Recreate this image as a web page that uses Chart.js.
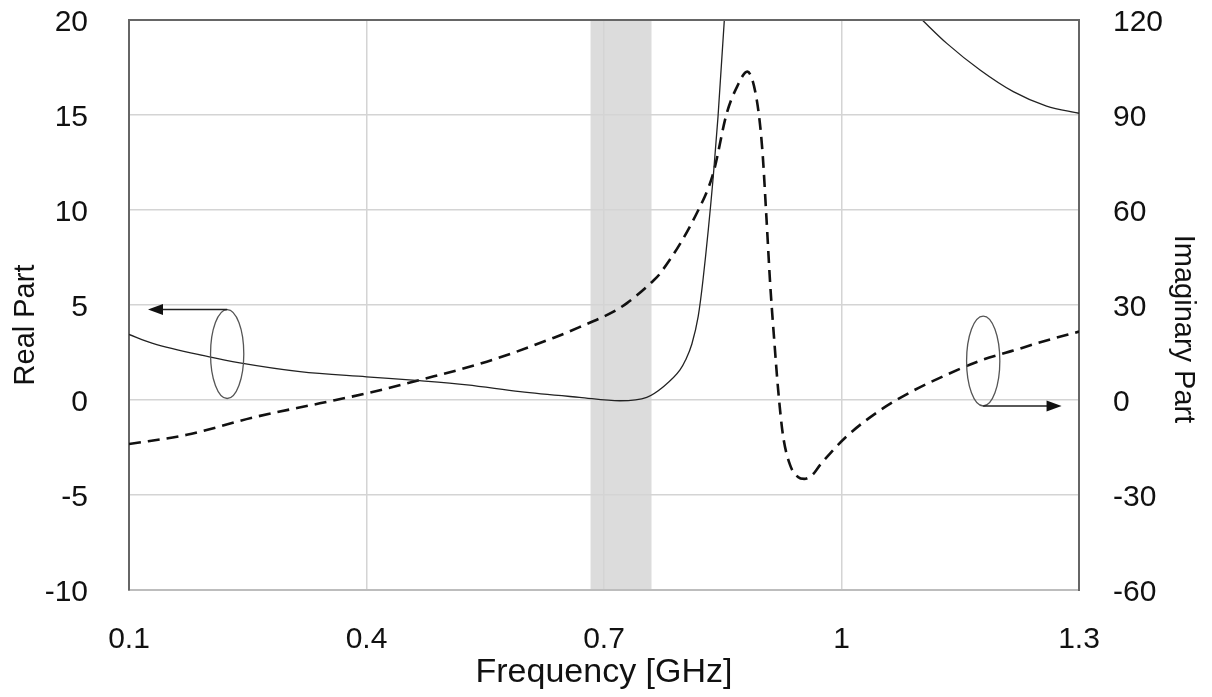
<!DOCTYPE html>
<html>
<head>
<meta charset="utf-8">
<script src="https://cdn.jsdelivr.net/npm/chart.js@4/dist/chart.umd.min.js"></script>
<style>
html, body { margin: 0; padding: 0; background: #fff; }
#wrap { width: 1212px; height: 697px; }
</style>
</head>
<body>
<div id="wrap"><canvas id="chart" width="1212" height="697"></canvas></div>
<script>
'use strict';

// real part (left axis), null = off the top of the chart
var freq_real = [0.10, 0.13, 0.20, 0.24, 0.316, 0.40, 0.467, 0.527, 0.594, 0.669, 0.72, 0.754, 0.775, 0.796, 0.803, 0.811, 0.819, 0.825, 0.838, 0.844, 0.852, 0.857,
                 0.98, 1.08, 1.103, 1.133, 1.175, 1.217, 1.259, 1.30];
var real_part = [3.45, 2.98, 2.28, 1.95, 1.49, 1.22, 1.02, 0.80, 0.44, 0.14, -0.04, 0.14, 0.7, 1.58, 2.1, 2.95, 4.4, 6.3, 11.75, 14.9, 20.0, 23.5,
                 null, 20.9, 19.96, 18.77, 17.37, 16.23, 15.47, 15.09];

// imaginary part (right axis)
var freq_imag = [0.10, 0.173, 0.257, 0.341, 0.40, 0.467, 0.552, 0.636, 0.669, 0.712, 0.729, 0.762, 0.771, 0.817, 0.838, 0.855, 0.868, 0.881,
                 0.893, 0.900, 0.905, 0.910, 0.915, 0.920, 0.926, 0.935, 0.945, 0.953, 0.963, 0.973, 1.006, 1.049, 1.091, 1.133, 1.175, 1.217, 1.259, 1.30];
var imag_part = [-13.9, -11.0, -5.5, -1.05, 2.1, 6.3, 12.1, 19.6, 23.0, 27.9, 30.6, 37.6, 40.0, 58.9, 71.6, 90.5, 98.9, 103.7,
                 94.7, 79.0, 58.4, 36.3, 19.0, 3.2, -11.0, -20.5, -24.3, -24.9, -23.7, -20.5, -11.6, -3.2, 3.0, 8.0, 12.4, 15.6, 18.8, 21.6];

var x_ticks = [0.1, 0.4, 0.7, 1, 1.3];
var y_ticks = [-10, -5, 0, 5, 10, 15, 20];
var y1_ticks = [-60, -30, 0, 30, 60, 90, 120];

// shaded frequency band [GHz]
var band = [0.683, 0.76];

// axis markers: ellipse around a curve + arrow to its axis
var marker_real = {x: 0.224, y: 2.42, rx: 0.021, ry: 2.34, side: 'top', to: 0.124};
var marker_imag = {x: 1.179, y: 12.3, rx: 0.021, ry: 14.2, side: 'bottom', to: 1.278};

var font_family = 'Liberation Sans, Arial, sans-serif';
var tick_font = {family: font_family, size: 30};

// side titles (drawn by hand, the originals sit below the axis centre)
var side_titles = [
    {text: 'Real Part', x: 26, y: 325, rot: -Math.PI / 2},
    {text: 'Imaginary Part', x: 1183, y: 329, rot: Math.PI / 2}
];

function to_points(xs, ys) {
    return xs.map((x, i) => ({x: x, y: ys[i]}));
}

function set_ticks(list) {
    return scale => { scale.ticks = list.map(v => ({value: v})); };
}

var edge_transparent = list => ctx => {
    var v = ctx.tick && ctx.tick.value;
    return (v === list[0] || v === list[list.length - 1]) ? 'rgba(0,0,0,0)' : '#d4d4d4';
};

var band_plugin = {
    id: 'band',
    beforeDraw: chart => {
        var ctx = chart.ctx, area = chart.chartArea, xs = chart.scales.x;
        var x0 = xs.getPixelForValue(band[0]), x1 = xs.getPixelForValue(band[1]);
        ctx.save();
        ctx.fillStyle = '#dcdcdc';
        ctx.fillRect(x0, area.top, x1 - x0, area.bottom - area.top);
        ctx.restore();
    }
};

function draw_marker(ctx, xs, ys, m) {
    var cx = xs.getPixelForValue(m.x), cy = ys.getPixelForValue(m.y);
    var rx = Math.abs(xs.getPixelForValue(m.x + m.rx) - cx);
    var ry = Math.abs(ys.getPixelForValue(m.y + m.ry) - cy);
    ctx.strokeStyle = '#555';
    ctx.lineWidth = 1.3;
    ctx.beginPath();
    ctx.ellipse(cx, cy, rx, ry, 0, 0, 2 * Math.PI);
    ctx.stroke();

    var ay = m.side === 'top' ? cy - ry : cy + ry;
    var ax = xs.getPixelForValue(m.to);
    var dir = ax < cx ? -1 : 1;
    ctx.strokeStyle = '#222';
    ctx.lineWidth = 1.6;
    ctx.beginPath();
    ctx.moveTo(cx, ay);
    ctx.lineTo(ax - dir * 12, ay);
    ctx.stroke();
    ctx.fillStyle = '#111';
    ctx.beginPath();
    ctx.moveTo(ax, ay);
    ctx.lineTo(ax - dir * 15, ay - 5.5);
    ctx.lineTo(ax - dir * 15, ay + 5.5);
    ctx.closePath();
    ctx.fill();
}

var marker_plugin = {
    id: 'markers',
    afterDatasetsDraw: chart => {
        var ctx = chart.ctx, s = chart.scales;
        ctx.save();
        draw_marker(ctx, s.x, s.y, marker_real);
        draw_marker(ctx, s.x, s.y1, marker_imag);
        ctx.restore();
    },
    afterDraw: chart => {
        var ctx = chart.ctx, area = chart.chartArea;
        ctx.save();
        // top edge of the frame
        ctx.strokeStyle = '#666';
        ctx.lineWidth = 2;
        ctx.beginPath();
        ctx.moveTo(area.left - 1, area.top);
        ctx.lineTo(area.right + 1, area.top);
        ctx.stroke();
        // side titles
        ctx.fillStyle = '#111';
        ctx.font = '29px ' + font_family;
        ctx.textAlign = 'center';
        ctx.textBaseline = 'middle';
        side_titles.forEach(t => {
            ctx.save();
            ctx.translate(t.x, t.y);
            ctx.rotate(t.rot);
            ctx.fillText(t.text, 0, 0);
            ctx.restore();
        });
        ctx.restore();
    }
};

new Chart(document.getElementById('chart'), {
    type: 'line',
    data: {
        datasets: [
            {
                label: 'Real Part',
                data: to_points(freq_real, real_part),
                yAxisID: 'y',
                borderColor: '#222',
                borderWidth: 1.3,
                pointRadius: 0,
                cubicInterpolationMode: 'monotone',
                spanGaps: false
            },
            {
                label: 'Imaginary Part',
                data: to_points(freq_imag, imag_part),
                yAxisID: 'y1',
                borderColor: '#111',
                borderWidth: 2.6,
                borderDash: [12, 7],
                pointRadius: 0,
                cubicInterpolationMode: 'monotone'
            }
        ]
    },
    options: {
        responsive: false,
        animation: false,
        events: [],
        layout: {padding: {top: 20, left: 0, right: 0, bottom: 0}},
        plugins: {legend: {display: false}, tooltip: {enabled: false}},
        scales: {
            x: {
                type: 'linear',
                min: 0.1,
                max: 1.3,
                afterBuildTicks: set_ticks(x_ticks),
                afterFit: scale => { scale.height = 107; },
                ticks: {font: tick_font, color: '#111', padding: 32, callback: v => String(v)},
                grid: {color: edge_transparent(x_ticks), lineWidth: 1.5, drawTicks: false},
                border: {color: '#bdbdbd', width: 2},
                title: {display: true, text: 'Frequency [GHz]', font: {family: font_family, size: 34}, color: '#111', padding: {top: 0, bottom: 4}}
            },
            y: {
                position: 'left',
                min: -10,
                max: 20,
                afterBuildTicks: set_ticks(y_ticks),
                afterFit: scale => { scale.width = 129; },
                ticks: {font: tick_font, color: '#111', padding: 2, labelOffset: 3},
                grid: {color: edge_transparent(y_ticks), lineWidth: 1.5, tickLength: 39, tickColor: 'rgba(0,0,0,0)'},
                border: {color: '#666', width: 2}
            },
            y1: {
                position: 'right',
                min: -60,
                max: 120,
                afterBuildTicks: set_ticks(y1_ticks),
                afterFit: scale => { scale.width = 133; },
                ticks: {font: tick_font, color: '#111', padding: 2, labelOffset: 3},
                grid: {drawOnChartArea: false, tickLength: 32, tickColor: 'rgba(0,0,0,0)'},
                border: {color: '#666', width: 2}
            }
        }
    },
    plugins: [band_plugin, marker_plugin]
});
</script>
</body>
</html>
